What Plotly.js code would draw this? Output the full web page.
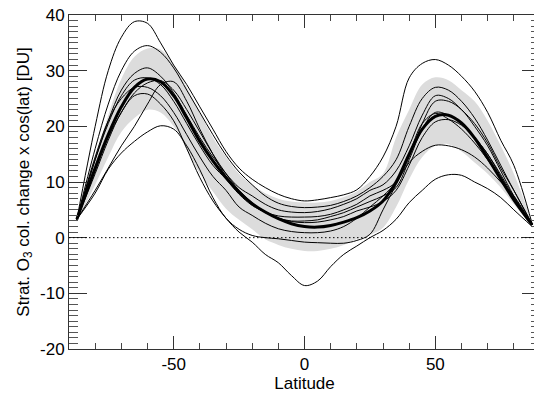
<!DOCTYPE html>
<html>
<head>
<meta charset="utf-8">
<script src="https://cdn.plot.ly/plotly-3.0.1.min.js"></script>
<style>
html,body{margin:0;padding:0;overflow:hidden;background:#fff;}
#chart{width:542px;height:394px;}
</style>
</head>
<body>
<div id="chart"></div>
<script>
// Latitude grid
const lat = [-87,-80,-75,-70,-65,-60,-55,-50,-45,-40,-35,-30,-25,-20,-15,-10,-5,0,5,10,15,20,25,30,35,40,45,50,55,60,65,70,75,80,87];

// Multi-model mean (thick line)
const meanVals = [3.3,12.5,18.5,23.5,27,28.5,28,25.5,21.5,17.3,13.8,10.8,8.2,6.1,4.6,3.4,2.5,2.0,1.9,2.2,2.8,3.6,4.8,6.6,10,15,19.5,21.8,22,20.6,17.9,14.3,10.5,6.8,2.3];

// Shaded +/- 1 sigma band
const bandHi = [3.6,14.5,22,28.5,32.5,34,33.8,31,27,22.5,18,14.5,11.5,9.5,8,7,6.5,6.3,6.3,6.6,7.3,8.3,10,11.5,18,23,27.5,28.8,28.3,26.5,24.5,21,16.5,11.5,2.8];
const bandLo = [2.8,9.5,14.5,19,21.5,23,22.5,20,15.8,11.5,8.3,5.2,3.2,1.5,-0.3,-1.3,-2,-2.4,-2.4,-2,-1.3,-0.3,0.5,1.8,5.5,10.5,14.5,16.5,16.8,15.5,13.5,11.5,9,6,2];

// Individual models (thin lines)
const model1 = [3.3,20,30,36,38.8,38.5,35,31,27.5,23.5,19.5,15.5,12.5,10.5,9,7.8,7,6.6,6.8,7.2,7.7,8.6,11,14.5,20,28.7,31.3,32,31,29,26.3,22.5,17.5,13,2.5];
const model2 = [3.3,16,24,30,33.5,34.5,33.3,30.5,26.5,22.5,18.5,14.8,11.8,9.5,7.5,6.2,5.6,5.4,5.5,5.8,6.5,7.5,9,11,14,20,25,27,26.5,24.5,21.5,17.5,13,8.5,2.5];
const model3 = [3.3,14,21,26.5,29.5,30.5,29,26,22,18,14.5,11.5,9,7.5,6,5,4.6,4.5,4.7,5.2,6,7,8.5,9.5,12,16.5,22,25.5,25,23,20.5,17,12.5,8.5,2.3];
const model4 = [3.3,14,20.5,25.5,28.3,28.7,27.5,24.5,20.5,16.5,13,10.5,7.8,5.8,4.6,3.9,3.7,3.7,3.8,4.2,5,6,7.5,8.5,10,14.5,20.5,24.5,24.5,23,20,16.5,12,7.5,2.3];
const model5 = [3.3,8.5,12.5,16.5,20,24,27.5,28,24.5,19.5,15,11,8,6,4.5,3.5,3,3,3.2,3.8,4.5,5.5,6.5,7.5,9,14,19.5,22.5,22,20.5,18,15,11,7,2.3];
const model6 = [3.3,11.5,17.5,22.5,25.5,25.8,24,21,16,10.8,6.6,3.5,1,-0.8,-3,-4.5,-6.8,-8.6,-7.8,-5.2,-3,-1.5,0,1.3,3.3,6.3,8.5,10.5,11.3,11.2,10,8.8,7.2,5,2];
const model7 = [3.3,8,12.3,15.2,17.3,19,20.1,19.5,16.5,12.2,7.2,3.5,1.5,0.4,0,-0.2,-0.5,-0.8,-0.9,-1,-1,-0.5,0.6,5,9.5,13.5,15.5,16.6,16.5,15.8,14.5,12.5,10,7.5,2.3];
const model8 = [3.3,12,18,22.5,26,27.8,28.2,26.5,23,19,15,11.5,8.5,6.3,4.6,3.5,2.9,2.7,2.8,3.2,3.8,4.8,5.5,6.5,8.5,13,18,20.8,21.2,20.2,18,15,11.3,7.3,2.3];
const model9 = [3.3,14.5,21,25,27,27,25.5,22.5,18.5,14.5,11,8.5,5.5,4,2.6,1.6,1.1,0.9,0.9,1.2,2,3.5,5.5,7.5,10,15,20.5,22.3,21.3,19.5,17,14,10.5,7,2.3];
const models = [model1, model2, model3, model4, model5, model6, model7, model8, model9];

// Axes
const xRange = [-90, 90];
const yRange = [-20, 40];
const xTicks = [-50, 0, 50];
const xTickText = ['-50', '0', '50'];
const xMinorTicks = [-80,-70,-60,-40,-30,-20,-10,10,20,30,40,60,70,80];
const yTicks = [-20, -10, 0, 10, 20, 30, 40];
const yTickText = ['-20', '-10', '0', '10', '20', '30', '40'];
const refLevel = 0;

const FONT = 'Liberation Sans, Arial, Helvetica, sans-serif';
const traces = [];
traces.push({x: lat, y: bandLo, mode: 'lines', line: {width: 0, shape: 'spline', smoothing: 1}, hoverinfo: 'skip', showlegend: false});
traces.push({x: lat, y: bandHi, mode: 'lines', line: {width: 0, shape: 'spline', smoothing: 1}, fill: 'tonexty', fillcolor: '#dcdcdc', hoverinfo: 'skip', showlegend: false});
models.forEach(m => traces.push({x: lat, y: m, mode: 'lines', line: {color: '#000', width: 1, shape: 'spline', smoothing: 1}, showlegend: false}));
traces.push({x: lat, y: meanVals, mode: 'lines', line: {color: '#000', width: 3, shape: 'spline', smoothing: 1}, showlegend: false});

const layout = {
  width: 542, height: 394,
  margin: {l: 69, r: 2, t: 15, b: 45, pad: 0},
  paper_bgcolor: '#fff', plot_bgcolor: '#fff',
  font: {family: FONT, size: 17, color: '#000'},
  showlegend: false,
  xaxis: {
    range: xRange, tickmode: 'array', tickvals: xTicks, ticktext: xTickText,
    ticks: 'inside', ticklen: 13, tickwidth: 1, tickcolor: '#333',
    minor: {tickmode: 'array', tickvals: xMinorTicks, ticks: 'inside', ticklen: 6, tickwidth: 1, tickcolor: '#444', showgrid: false},
    showline: true, linecolor: '#333', linewidth: 1, mirror: 'allticks',
    showgrid: false, zeroline: false,
    tickfont: {family: FONT, size: 17, color: '#000'},
    title: {text: 'Latitude', font: {family: FONT, size: 17, color: '#000'}, standoff: 2}
  },
  yaxis: {
    range: yRange, tickmode: 'array', tickvals: yTicks, ticktext: yTickText,
    ticks: 'inside', ticklen: 18, tickwidth: 1, tickcolor: '#333',
    minor: {dtick: 1, ticks: 'inside', ticklen: 9, tickwidth: 1, tickcolor: '#555', showgrid: false},
    showline: true, linecolor: '#333', linewidth: 1, mirror: 'allticks',
    showgrid: false, zeroline: false,
    tickfont: {family: FONT, size: 17, color: '#000'},
    title: {text: 'Strat. O<sub>3</sub> col. change x cos(lat) [DU]', font: {family: FONT, size: 17, color: '#000'}, standoff: 6}
  },
  shapes: [{type: 'line', xref: 'paper', x0: 0, x1: 1, yref: 'y', y0: refLevel, y1: refLevel,
            line: {color: '#000', width: 1, dash: '1.5px,2.5px'}, layer: 'above'}]
};

Plotly.newPlot('chart', traces, layout, {staticPlot: true, displayModeBar: false});
</script>
</body>
</html>
